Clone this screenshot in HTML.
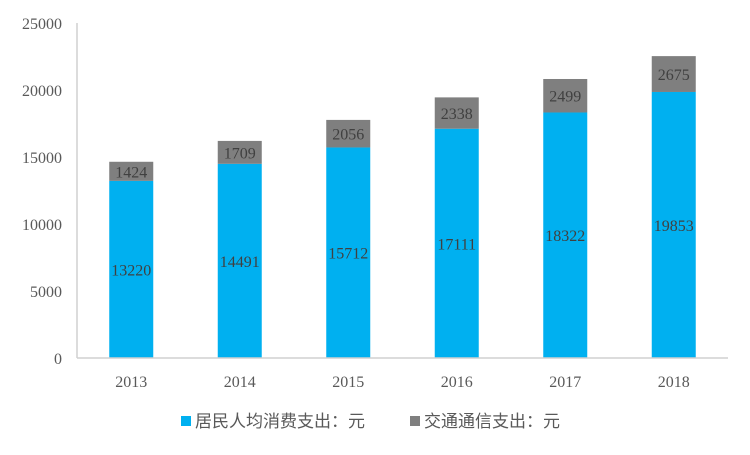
<!DOCTYPE html>
<html><head><meta charset="utf-8"><style>
body{margin:0;background:#fff;width:750px;height:450px;overflow:hidden}
svg text{font-family:"Liberation Serif","Noto Serif CJK SC",serif}
</style></head><body>
<svg id="c" width="750" height="450"></svg>
<script>
const categories=["2013","2014","2015","2016","2017","2018"];
const consumption=[13220,14491,15712,17111,18322,19853];
const transport=[1424,1709,2056,2338,2499,2675];
const yTicks=[0,5000,10000,15000,20000,25000];
const NS="http://www.w3.org/2000/svg";
const svg=document.getElementById('c');
const x0=77,x1=728,yBase=358,yTop=23,yMax=25000;
const bw=(x1-x0)/categories.length;
const y=v=>yBase-(v/yMax)*(yBase-yTop);
const xc=i=>x0+bw*(i+0.5);
function mk(t,a){const e=document.createElementNS(NS,t);for(const k in a)e.setAttribute(k,a[k]);svg.appendChild(e);return e;}
yTicks.forEach(t=>{const e=mk('text',{x:62,y:y(t)+6,'text-anchor':'end','font-size':16,fill:'#595959'});


e.textContent=t;});
const ya=mk('line',{x1:x0,y1:yTop,x2:x0,y2:yBase,stroke:'#d0d0d0','stroke-width':1.5});


categories.forEach((c,i)=>{
 const w=44,cx=xc(i);
 const b1=mk('rect',{x:cx-w/2,y:y(consumption[i]),width:w,height:yBase-y(consumption[i]),fill:'#00b0f0'});
 
 
 const top=consumption[i]+transport[i];
 const b2=mk('rect',{x:cx-w/2,y:y(top),width:w,height:y(consumption[i])-y(top),fill:'#7f7f7f'});
 
 
 const l1=mk('text',{x:cx,y:(y(consumption[i])+yBase)/2+6,'text-anchor':'middle','font-size':16,fill:'#404040'});
 
 
 l1.textContent=consumption[i];
 const l2=mk('text',{x:cx,y:(y(top)+y(consumption[i]))/2+6,'text-anchor':'middle','font-size':16,fill:'#404040'});
 
 
 l2.textContent=transport[i];
 const xl=mk('text',{x:cx,y:yBase+29,'text-anchor':'middle','font-size':16,fill:'#595959'});
 
 
 xl.textContent=c;
});
const xa=mk('line',{x1:x0,y1:yBase,x2:x1,y2:yBase,stroke:'#d0d0d0','stroke-width':1.5});


[[181,'#00b0f0','居民人均消费支出：元'],[410,'#7f7f7f','交通通信支出：元']].forEach(([lx,col,txt])=>{
 const s=mk('rect',{x:lx,y:416,width:10,height:10,fill:col});
 
 
 const t=mk('text',{x:lx+14,y:427,'font-size':17,fill:'#595959',style:'font-family:"Liberation Sans","Noto Sans CJK SC",sans-serif'});
 
 
 t.textContent=txt;
});
</script>
</body></html>
